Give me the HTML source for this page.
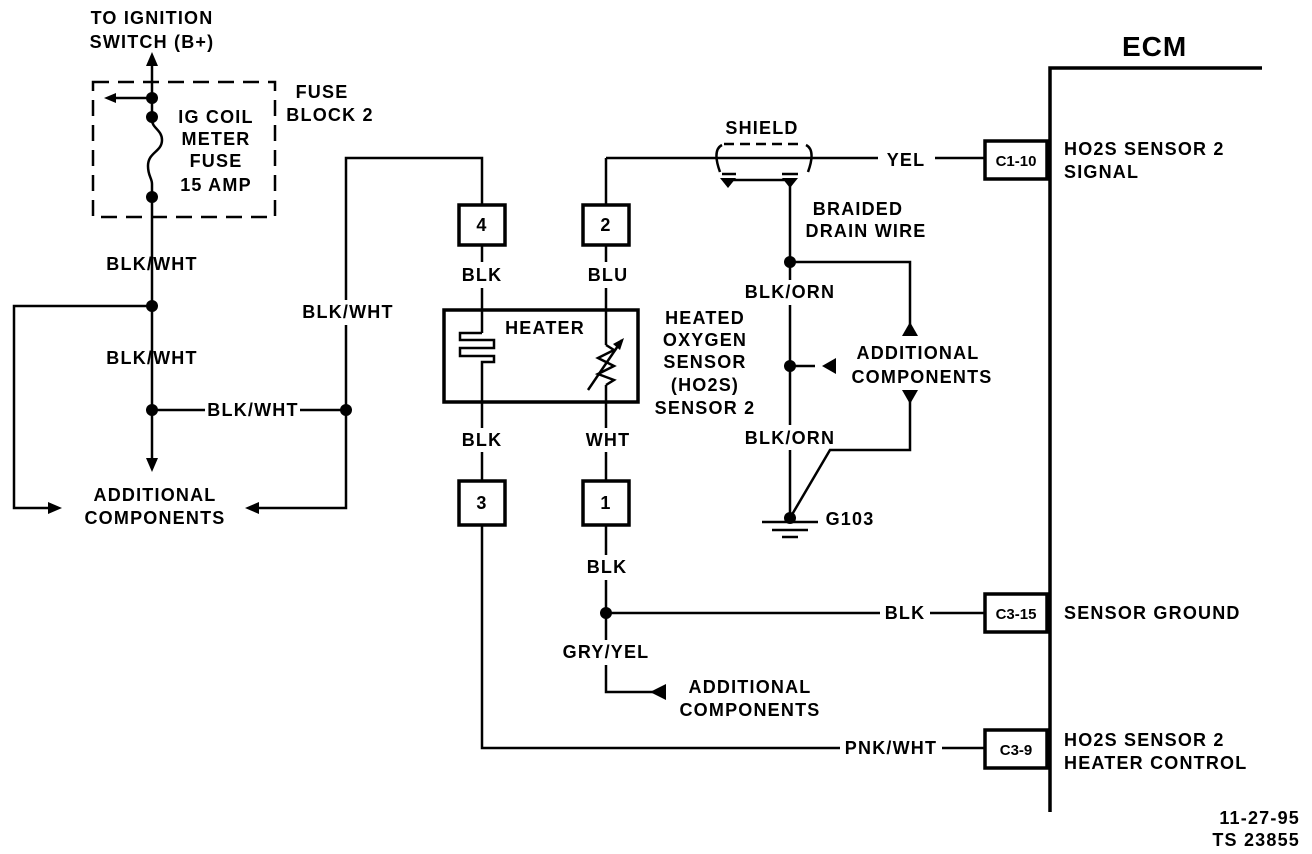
<!DOCTYPE html>
<html><head><meta charset="utf-8"><style>
html,body{margin:0;padding:0;background:#fff;}
svg{display:block}
text{font-family:"Liberation Sans",sans-serif;font-weight:bold;font-size:18px;letter-spacing:1.2px;fill:#000}
.c{font-size:15px;letter-spacing:0}
</style></head><body>
<svg width="1312" height="854" viewBox="0 0 1312 854" xmlns="http://www.w3.org/2000/svg">
<g stroke="#000" stroke-width="2.5" fill="none">
<line x1="152" y1="62" x2="152" y2="120"/>
<path d="M152 120 c0 8 10 10 10 20 c0 12 -14 12 -14 26 c0 10 4 12 4 18 L152 462"/>
<line x1="152" y1="98" x2="112" y2="98"/>
<rect x="93" y="82" width="182" height="135" stroke-dasharray="16 9"/>
<polyline points="152,306 14,306 14,508 50,508"/>
<line x1="152" y1="410" x2="205" y2="410"/>
<line x1="300" y1="410" x2="346" y2="410"/>
<polyline points="346,300 346,158 482,158 482,205"/>
<polyline points="346,325 346,508 258,508"/>
<line x1="482" y1="245" x2="482" y2="262"/>
<line x1="482" y1="288" x2="482" y2="333"/>
<path d="M482 333 L460 333 L460 340 L494 340 L494 348 L460 348 L460 356 L494 356 L494 362 L482 362 L482 428" stroke-width="2.5"/>
<line x1="482" y1="452" x2="482" y2="480"/>
<polyline points="482,525 482,748 840,748"/>
<line x1="942" y1="748" x2="985" y2="748"/>
<line x1="606" y1="205" x2="606" y2="158"/>
<line x1="606" y1="158" x2="878" y2="158"/>
<line x1="935" y1="158" x2="985" y2="158"/>
<line x1="606" y1="245" x2="606" y2="262"/>
<line x1="606" y1="288" x2="606" y2="345"/>
<line x1="606" y1="385" x2="606" y2="428"/>
<line x1="606" y1="452" x2="606" y2="480"/>
<line x1="606" y1="525" x2="606" y2="555"/>
<line x1="606" y1="580" x2="606" y2="640"/>
<line x1="606" y1="613" x2="880" y2="613"/>
<line x1="930" y1="613" x2="985" y2="613"/>
<polyline points="606,665 606,692 655,692"/>
<polyline points="606,345 614,350 598,358 614,366 598,374 614,380 606,385"/>
<line x1="588" y1="390" x2="622" y2="340"/>
<rect x="444" y="310" width="194" height="92" stroke-width="3.5"/>
<rect x="459" y="205" width="46" height="40" stroke-width="3.5"/>
<rect x="583" y="205" width="46" height="40" stroke-width="3.5"/>
<rect x="459" y="481" width="46" height="44" stroke-width="3.5"/>
<rect x="583" y="481" width="46" height="44" stroke-width="3.5"/>
<rect x="985" y="141" width="62" height="38" stroke-width="3.5"/>
<rect x="985" y="594" width="62" height="38" stroke-width="3.5"/>
<rect x="985" y="730" width="62" height="38" stroke-width="3.5"/>
<polyline points="1262,68 1050,68 1050,812" stroke-width="3.5"/>
<path d="M720 172 Q712 150 722 145 M808 172 Q816 150 806 145" />
<line x1="724" y1="144" x2="804" y2="144" stroke-dasharray="10 6"/>
<path d="M722 174 L736 174 M782 174 L798 174"/>
<line x1="728" y1="180" x2="790" y2="180"/>
<line x1="790" y1="180" x2="790" y2="280"/>
<line x1="790" y1="305" x2="790" y2="425"/>
<line x1="790" y1="450" x2="790" y2="518"/>
<polyline points="790,262 910,262 910,330"/>
<line x1="790" y1="366" x2="815" y2="366"/>
<polyline points="910,390 910,450 830,450 790,518"/>
<line x1="762" y1="522" x2="818" y2="522"/>
<line x1="772" y1="530" x2="808" y2="530"/>
<line x1="782" y1="537" x2="798" y2="537"/>
</g>
<g fill="#000">
<circle cx="152" cy="98" r="6"/><circle cx="152" cy="117" r="6"/><circle cx="152" cy="197" r="6"/>
<circle cx="152" cy="306" r="6"/><circle cx="152" cy="410" r="6"/><circle cx="346" cy="410" r="6"/>
<circle cx="606" cy="613" r="6"/><circle cx="790" cy="262" r="6"/><circle cx="790" cy="366" r="6"/><circle cx="790" cy="518" r="6"/>
<path d="M720 178 L736 178 L728 188Z"/><path d="M782 178 L798 178 L790 188Z"/>
<path d="M152 52 L146 66 L158 66Z"/>
<path d="M104 98 L116 93 L116 103Z"/>
<path d="M152 472 L146 458 L158 458Z"/>
<path d="M62 508 L48 502 L48 514Z"/>
<path d="M245 508 L259 502 L259 514Z"/>
<path d="M650 692 L666 684 L666 700Z"/>
<path d="M910 322 L902 336 L918 336Z"/>
<path d="M822 366 L836 358 L836 374Z"/>
<path d="M910 404 L902 390 L918 390Z"/>
<path d="M624 338 L613 344 L620 350Z"/>
</g>
<g text-anchor="middle">
<text x="152" y="24">TO IGNITION</text>
<text x="152" y="48">SWITCH (B+)</text>
<text x="216" y="123">IG COIL</text>
<text x="216" y="145">METER</text>
<text x="216" y="167">FUSE</text>
<text x="216" y="191">15 AMP</text>
<text x="322" y="98">FUSE</text>
<text x="330" y="121">BLOCK 2</text>
<text x="152" y="270">BLK/WHT</text>
<text x="152" y="364">BLK/WHT</text>
<text x="253" y="416">BLK/WHT</text>
<text x="348" y="318">BLK/WHT</text>
<text x="155" y="501">ADDITIONAL</text>
<text x="155" y="524">COMPONENTS</text>
<text x="482" y="231">4</text><text x="606" y="231">2</text>
<text x="482" y="509">3</text><text x="606" y="509">1</text>
<text x="482" y="281">BLK</text><text x="608" y="281">BLU</text>
<text x="482" y="446">BLK</text><text x="608" y="446">WHT</text>
<text x="545" y="334">HEATER</text>
<text x="705" y="324">HEATED</text>
<text x="705" y="346">OXYGEN</text>
<text x="705" y="368">SENSOR</text>
<text x="705" y="391">(HO2S)</text>
<text x="705" y="414">SENSOR 2</text>
<text x="762" y="134">SHIELD</text>
<text x="906" y="166">YEL</text>
<text x="1016" y="166" class="c">C1-10</text>
<text x="858" y="215">BRAIDED</text>
<text x="866" y="237">DRAIN WIRE</text>
<text x="790" y="298">BLK/ORN</text>
<text x="790" y="444">BLK/ORN</text>
<text x="918" y="359">ADDITIONAL</text>
<text x="922" y="383">COMPONENTS</text>
<text x="850" y="525">G103</text>
<text x="607" y="573">BLK</text>
<text x="905" y="619">BLK</text>
<text x="1016" y="619" class="c">C3-15</text>
<text x="606" y="658">GRY/YEL</text>
<text x="750" y="693">ADDITIONAL</text>
<text x="750" y="716">COMPONENTS</text>
<text x="891" y="754">PNK/WHT</text>
<text x="1016" y="755" class="c">C3-9</text>
</g>
<text x="1122" y="56" style="font-size:28px;letter-spacing:1px">ECM</text>
<text x="1064" y="155">HO2S SENSOR 2</text>
<text x="1064" y="178">SIGNAL</text>
<text x="1064" y="619">SENSOR GROUND</text>
<text x="1064" y="746">HO2S SENSOR 2</text>
<text x="1064" y="769">HEATER CONTROL</text>
<text x="1300" y="824" text-anchor="end">11-27-95</text>
<text x="1300" y="846" text-anchor="end">TS 23855</text>
</svg>
</body></html>
